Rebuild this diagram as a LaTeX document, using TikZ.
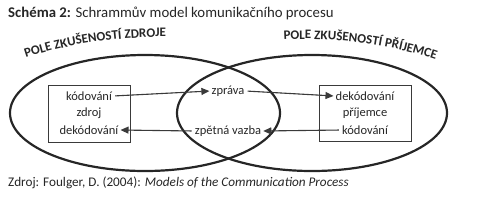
\documentclass[tikz,border=0pt]{standalone}
\usepackage{fontspec}
\setmainfont{Carlito}
\usepackage{xcolor}
\usetikzlibrary{arrows.meta,positioning,shapes.geometric,decorations.text}

\definecolor{ink}{HTML}{262626}
\definecolor{linegray}{HTML}{3A3A3A}

\tikzset{
 field/.style={ellipse, draw=ink, line width=2.2pt, minimum width=270pt, minimum height=116pt, inner sep=0pt},
 box/.style={draw=linegray, line width=0.7pt, rectangle, inner sep=0pt},
 word/.style={font=\fontsize{12.5}{14}\selectfont, text=ink, inner sep=1pt},
 msg/.style={-{Triangle[length=8pt,width=7pt]}, draw=linegray, fill=linegray, line width=1.1pt, shorten <=2pt, shorten >=1pt}
}

\begin{document}
\begin{tikzpicture}[x=1pt, y=-1pt]
\useasboundingbox (0,0) rectangle (490,202);

% Title
\node[anchor=west, font=\fontsize{14.8}{17}\selectfont, text=ink, inner sep=0pt] (title) at (8,13)
 {\textbf{Schéma 2:} Schrammův model komunikačního procesu};

% Fields of experience
\node[field] (pzdroj) at (145,113) {};
\node[field] (pprij) at (312,113) {};

% Curved labels
\path[decorate, decoration={text along path, text align=center,
 text={|\fontsize{13}{15}\selectfont\bfseries\color{ink}|POLE ZKUŠENOSTÍ ZDROJE}}]
 (20,60) .. controls (65,44) and (120,36) .. (172,37);
\path[decorate, decoration={text along path, text align=center,
 text={|\fontsize{13}{15}\selectfont\bfseries\color{ink}|POLE ZKUŠENOSTÍ PŘÍJEMCE}}]
 (277,40) .. controls (330,36) and (392,44) .. (442,62);

% Boxes
\node[box, minimum width=82pt, minimum height=57pt] (srcbox) at (89,113.5) {};
\node[box, minimum width=92pt, minimum height=56pt] (rcvbox) at (365,113) {};

% Box texts
\node[word] (skod) at (89,96) {kódování};
\node[word] (szdroj) at (89,113) {zdroj};
\node[word] (sdek) at (89,130) {dekódování};
\node[word] (rdek) at (365,96) {dekódování};
\node[word] (rprij) at (365,113) {příjemce};
\node[word] (rkod) at (365,130) {kódování};

% Messages
\node[word] (zprava) at (228,91) {zpráva};
\node[word] (vazba) at (228,131) {zpětná vazba};

% Arrows
\draw[msg] (skod.east) -- (zprava.west);
\draw[msg] (zprava.east) -- (rdek.west);
\draw[msg] (rkod.west) -- (vazba.east);
\draw[msg] (vazba.west) -- (sdek.east);

% Source
\node[anchor=west, font=\fontsize{13.2}{15}\selectfont, text=ink, inner sep=0pt] (zdroj) at (8,183)
 {Zdroj: Foulger, D. (2004): \textit{Models of the Communication Process}};
\end{tikzpicture}
\end{document}
